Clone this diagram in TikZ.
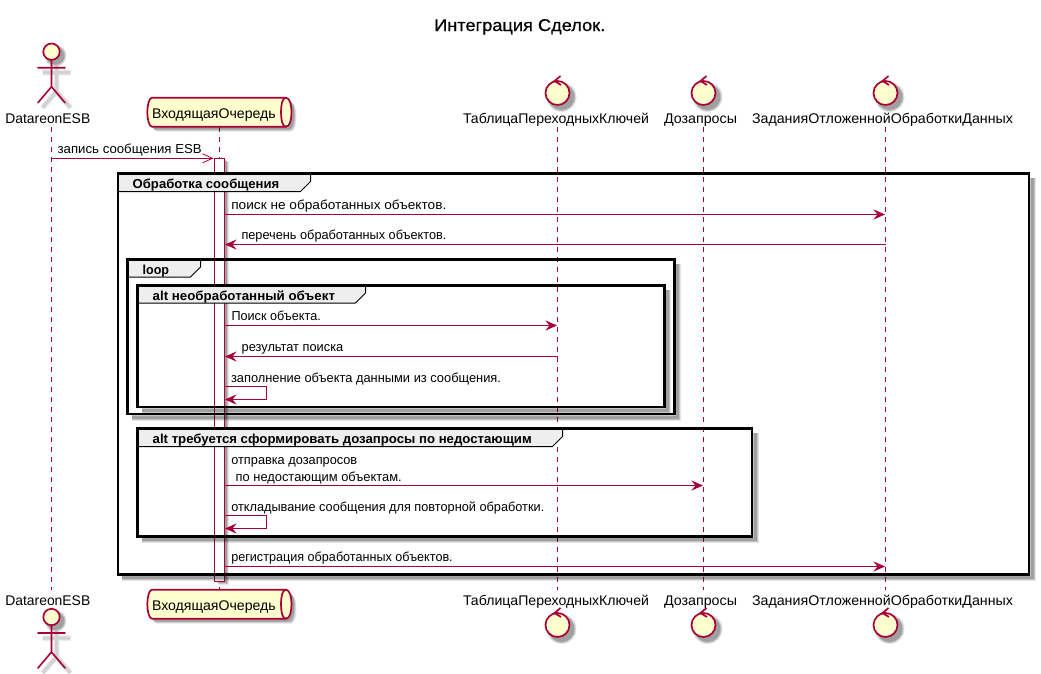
\documentclass[tikz,border=0pt]{standalone}
\usepackage{fontspec}
\usepackage{graphicx}
\usetikzlibrary{arrows.meta}
\setmainfont{Liberation Sans}
\definecolor{plred}{HTML}{A80036}
\definecolor{plfill}{HTML}{FEFECE}
\definecolor{pltab}{HTML}{EEEEEE}
\newcommand{\fw}[2]{\resizebox{#1pt}{\height}{#2}}
\tikzset{
  life/.style={draw=plred,line width=1pt,dash pattern=on 5pt off 5pt},
  msg/.style={draw=plred,line width=1pt,-{Stealth[length=11.5pt,width=10pt,inset=4pt]}},
  opn/.style={draw=plred,line width=.8pt,-{Straight Barb[length=10pt,width=9pt,line width=.8pt]}},
  ink/.style={draw=plred,line width=1.7pt,fill=plfill},
  stick/.style={draw=plred,line width=1.6pt,line cap=round},
  lbl/.style={inner sep=0pt,outer sep=0pt,text=black,font=\fontsize{13}{15}\selectfont},
  part/.style={inner sep=0pt,outer sep=0pt,text=black,font=\fontsize{14}{16}\selectfont},
  ftitle/.style={inner sep=0pt,outer sep=0pt,text=black,font=\fontsize{13}{15}\selectfont\bfseries},
  frameline/.style={draw=black,line width=2.4pt},
  tabline/.style={draw=black,line width=1pt,fill=pltab},
  softA/.style={draw=black,opacity=.10,line width=7pt},
  softB/.style={draw=black,opacity=.14,line width=5pt},
  softC/.style={draw=black,opacity=.18,line width=3pt}
}
% corner-shadow of a frame: x1 y1 x2 y2
\newcommand{\cshadow}[4]{%
  \path[softA] (#3+3,#2+4) -- (#3+3,#4+3) -- (#1+4,#4+3);
  \path[softB] (#3+3,#2+4) -- (#3+3,#4+3) -- (#1+4,#4+3);
  \path[softC] (#3+3,#2+4) -- (#3+3,#4+3) -- (#1+4,#4+3);
}
% frame: x1 y1 x2 y2 tabx taby
\newcommand{\sqframe}[6]{%
  \cshadow{#1}{#2}{#3}{#4}
  \draw[tabline] (#1,#2) -- (#5,#2) -- (#5,#6-10) -- (#5-10,#6) -- (#1,#6) -- cycle;
  \draw[frameline] (#1,#2) rectangle (#3,#4);
}
% actor: cx, head centre y
\newcommand{\actorfig}[2]{%
  \foreach \w/\o in {6/.05,4.5/.06,3/.07}{
    \path[draw=black,opacity=\o,line width=\w pt]
      (#1+5,#2+9+5) -- (#1+5,#2+35+5) (#1+5,#2+35+5) -- (#1-9,#2+51+5) (#1+5,#2+35+5) -- (#1+19,#2+51+5)
      (#1-9,#2+16+5) -- (#1+19,#2+16+5);
  }
  \foreach \r/\o in {11/.10,10/.14,9/.18}{
    \path[fill=black,opacity=\o] (#1+4,#2+4) circle[radius=\r];
  }
  \draw[stick] (#1,#2+8) -- (#1,#2+35) (#1,#2+35) -- (#1-13.5,#2+51) (#1,#2+35) -- (#1+13.5,#2+51)
     (#1-13.5,#2+16) -- (#1+13.5,#2+16);
  \draw[ink] (#1,#2) circle[radius=8.2];
}
% control icon: cx, cy
\newcommand{\ctrlfig}[2]{%
  \foreach \r/\o in {15/.10,14/.14,13/.18}{
    \path[fill=black,opacity=\o] (#1+4,#2+4) circle[radius=\r];
  }
  \draw[ink] (#1,#2) circle[radius=12];
  \draw[draw=plred,line width=1.7pt,line join=miter] (#1+3,#2-17) -- (#1-3,#2-12) -- (#1+3.5,#2-8);
}
% queue: top y
\newcommand{\queuefig}[1]{%
  \foreach \d/\o in {5/.10,4/.14,3/.18}{
    \path[fill=black,opacity=\o,shift={(\d,\d)}]
      (152,#1) -- (286,#1) .. controls (290,#1) and (291.5,#1+8) .. (291.5,#1+14.5)
      .. controls (291.5,#1+21) and (290,#1+29) .. (286,#1+29) -- (152,#1+29)
      .. controls (149,#1+29) and (147.3,#1+21) .. (147.3,#1+14.5)
      .. controls (147.3,#1+8) and (149,#1) .. (152,#1) -- cycle;
  }
  \path[ink]
    (152,#1) -- (286,#1) .. controls (290,#1) and (291.5,#1+8) .. (291.5,#1+14.5)
    .. controls (291.5,#1+21) and (290,#1+29) .. (286,#1+29) -- (152,#1+29)
    .. controls (149,#1+29) and (147.3,#1+21) .. (147.3,#1+14.5)
    .. controls (147.3,#1+8) and (149,#1) .. (152,#1) -- cycle;
  \draw[draw=plred,line width=1.7pt] (286,#1) .. controls (282,#1) and (281,#1+8) .. (281,#1+14.5)
    .. controls (281,#1+21) and (282,#1+29) .. (286,#1+29);
}
\newfontfamily\titlefont[FakeBold=0.5]{Liberation Sans}
\begin{document}
\begin{tikzpicture}[x=1pt,y=-1pt]
\useasboundingbox[fill=white] (0,0) rectangle (1041,673);

% lifelines
\coordinate (l1t) at (51.5,127); \coordinate (l1b) at (51.5,590);
\coordinate (l2t) at (219.5,127); \coordinate (l2b) at (219.5,590);
\coordinate (l3t) at (557.5,127); \coordinate (l3b) at (557.5,590);
\coordinate (l4t) at (703.5,127); \coordinate (l4b) at (703.5,590);
\coordinate (l5t) at (885.5,127); \coordinate (l5b) at (885.5,590);
\foreach \n in {1,...,5}{\draw[life] (l\n t) -- (l\n b);}

% activation bar
\foreach \d/\o in {4/.10,3/.14,2/.18}{
  \path[fill=black,opacity=\o] (214.5+\d,158+\d) rectangle (224.5+\d,581+\d);
}
\node[draw=plred,fill=white,line width=1pt,inner sep=0pt,outer sep=0pt,minimum width=10pt,minimum height=423pt] (act) at (219.5,369.7) {};

% frames
\sqframe{118}{173.5}{1029}{574.5}{310.5}{191.5}
\sqframe{127.5}{259.5}{674.5}{414}{200.5}{277}
\sqframe{137.5}{285.5}{664.5}{407}{365.5}{303}
\sqframe{137.5}{428.5}{752}{536.5}{562.5}{446.5}
\node[ftitle,anchor=base west] (f1) at (132.7,188) {\fw{146.6}{Обработка сообщения}};
\node[ftitle,anchor=base west] (f2) at (142.7,274) {\fw{26.4}{loop}};
\node[ftitle,anchor=base west] (f3) at (152.7,300) {\fw{182.3}{alt необработанный объект}};
\node[ftitle,anchor=base west] (f4) at (152.7,443) {\fw{379}{alt требуется сформировать дозапросы по недостающим}};

% title
\node[inner sep=0pt,anchor=base west,font=\titlefont\fontsize{17}{20}\selectfont,text=black] (title) at (434,31) {\fw{171}{Интеграция Сделок.}};

% participants, top
\actorfig{51.5}{51.7}
\node[part,anchor=base west] (p1a) at (5.3,123) {\fw{85}{DatareonESB}};
\queuefig{97.7}
\node[part,anchor=base west] (p2a) at (152,118) {\fw{123.7}{ВходящаяОчередь}};
\ctrlfig{557.5}{93}
\node[part,anchor=base west] (p3a) at (463,123) {\fw{186}{ТаблицаПереходныхКлючей}};
\ctrlfig{703.5}{93}
\node[part,anchor=base west] (p4a) at (664,123) {\fw{73}{Дозапросы}};
\ctrlfig{885.5}{93}
\node[part,anchor=base west] (p5a) at (752,123) {\fw{261}{ЗаданияОтложеннойОбработкиДанных}};

% participants, bottom
\actorfig{51.5}{617}
\node[part,anchor=base west] (p1b) at (5.3,605.5) {\fw{85}{DatareonESB}};
\queuefig{589.7}
\node[part,anchor=base west] (p2b) at (152,610) {\fw{123.7}{ВходящаяОчередь}};
\ctrlfig{557.5}{625}
\node[part,anchor=base west] (p3b) at (463,605.5) {\fw{186}{ТаблицаПереходныхКлючей}};
\ctrlfig{703.5}{625}
\node[part,anchor=base west] (p4b) at (664,605.5) {\fw{73}{Дозапросы}};
\ctrlfig{885.5}{625}
\node[part,anchor=base west] (p5b) at (752,605.5) {\fw{261}{ЗаданияОтложеннойОбработкиДанных}};

% messages
\coordinate (m1s) at (51.5,158.3);
\coordinate (m1e) at (213.5,158.3);
\draw[opn] (m1s) -- (m1e);
\node[lbl,anchor=base west] (t1) at (57.7,153.5) {\fw{144}{запись сообщения ESB}};

\coordinate (m2s) at (224.5,214.5); \coordinate (m2e) at (885,214.5);
\draw[msg] (m2s) -- (m2e);
\node[lbl,anchor=base west] (t2) at (231.3,209) {\fw{215}{поиск не обработанных объектов.}};

\coordinate (m3s) at (885.5,244.5); \coordinate (m3e) at (225,244.5);
\draw[msg] (m3s) -- (m3e);
\node[lbl,anchor=base west] (t3) at (241.5,239.5) {\fw{205}{перечень обработанных объектов.}};

\coordinate (m4s) at (224.5,325.5); \coordinate (m4e) at (557,325.5);
\draw[msg] (m4s) -- (m4e);
\node[lbl,anchor=base west] (t4) at (231.5,320.5) {\fw{89.3}{Поиск объекта.}};

\coordinate (m5s) at (557.5,356.5); \coordinate (m5e) at (225,356.5);
\draw[msg] (m5s) -- (m5e);
\node[lbl,anchor=base west] (t5) at (241.7,351.5) {\fw{101.6}{результат поиска}};

\coordinate (m6s) at (224.5,386.5); \coordinate (m6e) at (225,399.5);
\draw[msg] (m6s) -- (266.5,386.5) -- (266.5,399.5) -- (m6e);
\node[lbl,anchor=base west] (t6) at (231,382) {\fw{270}{заполнение объекта данными из сообщения.}};

\coordinate (m7s) at (224.5,485.5); \coordinate (m7e) at (703,485.5);
\draw[msg] (m7s) -- (m7e);
\node[lbl,anchor=base west] (t7a) at (231.3,464) {\fw{126}{отправка дозапросов}};
\node[lbl,anchor=base west] (t7b) at (235.7,481) {\fw{166}{по недостающим объектам.}};

\coordinate (m8s) at (224.5,515.5); \coordinate (m8e) at (225,528.5);
\draw[msg] (m8s) -- (266.5,515.5) -- (266.5,528.5) -- (m8e);
\node[lbl,anchor=base west] (t8) at (231.3,511) {\fw{313}{откладывание сообщения для повторной обработки.}};

\coordinate (m9s) at (224.5,566.5); \coordinate (m9e) at (885,566.5);
\draw[msg] (m9s) -- (m9e);
\node[lbl,anchor=base west] (t9) at (231.3,561) {\fw{221.4}{регистрация обработанных объектов.}};
\end{tikzpicture}
\end{document}
